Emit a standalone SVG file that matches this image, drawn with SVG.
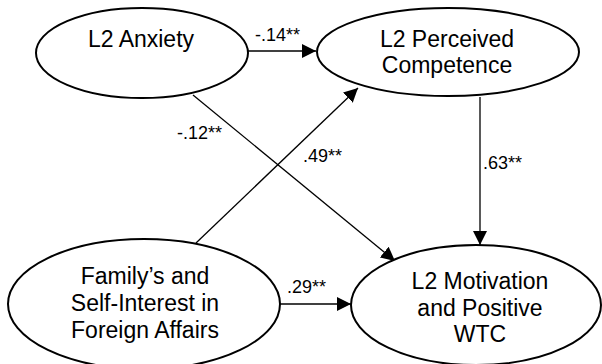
<svg xmlns="http://www.w3.org/2000/svg" width="602" height="364" viewBox="0 0 602 364">
<style>
.node ellipse{fill:#fff;stroke:#000;stroke-width:2}
.node text{font-family:"Liberation Sans",Arial,sans-serif;font-size:23px;fill:#000;text-anchor:middle}
.edge line{stroke:#000;stroke-width:1.3}
.lbl{font-family:"Liberation Sans",Arial,sans-serif;font-size:18px;fill:#000}
</style>
<defs>
<marker id="ah" markerUnits="userSpaceOnUse" markerWidth="15" markerHeight="14" refX="14" refY="7" orient="auto">
<path d="M0,0 L14,7 L0,14 z" fill="#000"/>
</marker>
</defs>
<rect width="602" height="364" fill="#fff"/>
<g id="connectors" class="edge">
<line x1="248" y1="51" x2="316" y2="51" marker-end="url(#ah)"/>
<line x1="193" y1="95" x2="395" y2="261" marker-end="url(#ah)"/>
<line x1="196" y1="243" x2="358" y2="88" marker-end="url(#ah)"/>
<line x1="480" y1="97" x2="480" y2="245" marker-end="url(#ah)"/>
<line x1="280" y1="304" x2="351" y2="304" marker-end="url(#ah)"/>
<text class="lbl" x="255" y="41">-.14**</text>
<text class="lbl" x="177" y="139">-.12**</text>
<text class="lbl" x="303" y="162">.49**</text>
<text class="lbl" x="483" y="169">.63**</text>
<text class="lbl" x="287" y="293">.29**</text>
</g>
<g id="anxiety" class="node">
<ellipse cx="142" cy="53" rx="106" ry="45"/>
<text x="141" y="47">L2 Anxiety</text>
</g>
<g id="competence" class="node">
<ellipse cx="448" cy="52" rx="131" ry="44"/>
<text x="447" y="47">L2 Perceived</text>
<text x="447" y="73">Competence</text>
</g>
<g id="family" class="node">
<ellipse cx="144" cy="304" rx="136" ry="65"/>
<text x="145" y="284">Family’s and</text>
<text x="145" y="311">Self-Interest in</text>
<text x="145" y="338">Foreign Affairs</text>
</g>
<g id="motivation" class="node">
<ellipse cx="476" cy="305" rx="125" ry="60"/>
<text x="480" y="289">L2 Motivation</text>
<text x="480" y="316">and Positive</text>
<text x="480" y="342">WTC</text>
</g>
</svg>
